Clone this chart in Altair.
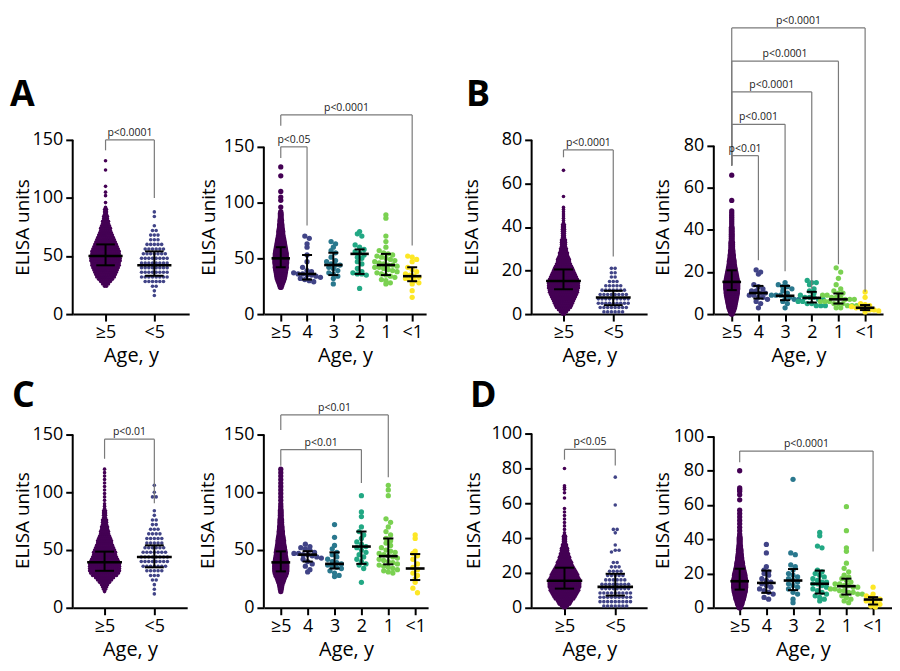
import altair as alt
import pandas as pd

FONT = "Open Sans"
GRAY = "#7a7a7a"

CATS_2 = ["≥5", "<5"]
CATS_6 = ["≥5", "4", "3", "2", "1", "<1"]
COLORS = {"≥5": "#440154", "<5": "#414487", "4": "#414487", "3": "#2A788E",
          "2": "#22A884", "1": "#7AD151", "<1": "#FDE725"}

# ---------------- Study A ----------------
A_ge5_bins = [24, 26, 28, 30, 32, 34, 36, 38, 40, 42, 44, 46, 48, 50, 52, 54, 56, 58, 60, 62,
              64, 66, 68, 70, 72, 74, 76, 78, 80, 82, 84, 86, 88, 90, 92, 96, 102, 105, 110, 124, 132]
A_ge5_counts = [2, 4, 6, 8, 10, 11, 12, 13, 14, 15, 15, 16, 16, 16, 15, 15, 14, 13, 12, 11,
                10, 9, 8, 7, 6, 6, 5, 4, 4, 3, 3, 2, 2, 2, 1, 1, 1, 1, 1, 1, 1]
A_lt5_bins = [16, 20, 24, 28, 32, 36, 40, 44, 48, 52, 56, 60, 64, 68, 72, 76, 84, 88]
A_lt5_counts = [1, 1, 2, 6, 8, 8, 8, 8, 8, 7, 6, 5, 3, 3, 2, 1, 1, 1]
A_age4 = [70, 68, 63, 60, 53, 47, 42, 39, 38, 37, 36, 36, 35, 35, 34, 33, 32, 31, 30, 29]
A_age3 = [65, 63, 60, 57, 55, 51, 48, 47, 45, 44, 44, 42, 41, 39, 37, 36, 34, 32, 27]
A_age2 = [74, 72, 70, 62, 60, 58, 56, 55, 53, 51, 50, 47, 45, 41, 38, 37, 36, 36, 35, 23]
A_age1 = [89, 86, 70, 65, 60, 57, 55, 54, 53, 52, 51, 50, 49, 48, 47, 46, 45, 44, 44, 43, 42,
          42, 41, 40, 39, 38, 37, 36, 35, 34, 33, 31, 30, 28, 27]
A_ageU1 = [52, 51, 49, 47, 42, 40, 38, 36, 35, 34, 33, 32, 31, 30, 28, 27, 21, 15]
A2_q1, A2_med, A2_q3 = [42, 33], [50, 42], [60, 54]
A6_q1 = [42, 31, 35, 36, 35, 29.5]
A6_med = [50, 36, 44, 54, 44, 34]
A6_q3 = [60, 53, 55, 58, 54, 42]
A2_brackets = [(0, 1, 150, 141, 100, "p<0.0001")]
A6_brackets = [(0, 1, 150, 140, 79.5, "p<0.05"), (0, 5, 178.6, 169, 61.6, "p<0.0001")]

# ---------------- Study B ----------------
B_ge5_bins = list(range(0, 50)) + [54, 66]
B_ge5_counts = [2, 4, 6, 8, 9, 10, 11, 12, 13, 14, 15, 15, 16, 16, 16, 16, 15, 14, 13, 12,
                11, 10, 9, 8, 7, 7, 6, 5, 5, 4, 4, 3, 3, 3, 3, 2, 2, 2, 2, 2,
                2, 2, 1, 1, 1, 1, 1, 1, 1, 1, 1, 1]
B_lt5_bins = [1, 3, 5, 7, 9, 11, 13, 15, 17, 19, 21]
B_lt5_counts = [6, 8, 9, 9, 8, 7, 5, 3, 2, 2, 2]
B_age4 = [21, 20, 19, 14, 13, 12, 11, 11, 10, 10, 9, 9, 8, 8, 7, 6, 5, 3]
B_age3 = [15, 14, 13, 13, 12, 11, 10, 9, 9, 9, 8, 8, 7, 7, 6, 5, 3]
B_age2 = [16, 15, 15, 14, 12, 11, 10, 9, 8, 8, 8, 7, 7, 6, 6, 5, 5, 4, 4, 4]
B_age1 = [22, 20, 17, 14, 12, 11, 10, 10, 9, 9, 8, 8, 8, 7, 7, 7, 6, 6, 6, 5, 5, 5, 4, 4, 4, 3, 3]
B_ageU1 = [10.5, 8, 5, 4.5, 4, 3.5, 3, 3, 2.5, 2, 2, 1.5, 1]
B2_q1, B2_med, B2_q3 = [11.4, 4.1], [15.2, 7.6], [20.5, 10.7]
B6_q1 = [11.4, 7.4, 6.6, 5.5, 5, 1.9]
B6_med = [15.3, 10, 8.7, 7.7, 7, 3]
B6_q3 = [20.8, 13.4, 13.4, 10.6, 9.8, 4.3]
B2_brackets = [(0, 1, 75.4, 72, 26.5, "p<0.0001")]
B6_brackets = [(0, 1, 75.3, 70.6, 25.6, "p<0.01"), (0, 2, 90.2, 70.6, 20.4, "p<0.001"),
               (0, 3, 105.6, 70.6, 12.1, "p<0.0001"), (0, 4, 120.2, 70.6, 23.7, "p<0.0001"),
               (0, 5, 136, 70.6, 10.6, "p<0.0001")]

# ---------------- Study C ----------------
C_ge5_bins = [14, 16, 18, 20, 22, 24, 26, 28, 30, 32, 34, 36, 38, 40, 42, 44, 46, 48, 50, 52,
              54, 56, 58, 60, 62, 64, 66, 68, 70, 72, 74, 76, 78, 80, 82, 84, 86, 88, 90, 93,
              96, 99, 102, 105, 108, 111, 114, 117, 120]
C_ge5_counts = [1, 2, 3, 4, 6, 8, 10, 13, 15, 16, 16, 16, 16, 15, 14, 13, 12, 12, 11, 10,
                9, 8, 8, 7, 6, 5, 5, 4, 4, 3, 3, 3, 2, 2, 2, 2, 1, 1, 1, 1,
                1, 1, 1, 1, 1, 1, 1, 1, 1]
C_lt5_bins = [12, 16, 20, 24, 28, 32, 36, 40, 44, 48, 52, 56, 60, 64, 68, 72, 76, 80, 84, 96, 100, 106]
C_lt5_counts = [1, 1, 1, 2, 3, 5, 7, 8, 8, 7, 6, 5, 5, 4, 3, 2, 2, 1, 1, 2, 1, 1]
C_age4 = [55, 53, 52, 51, 50, 48, 47, 47, 46, 46, 45, 44, 43, 42, 40, 38, 36, 33, 31]
C_age3 = [72, 61, 54, 51, 48, 46, 44, 42, 40, 39, 38, 37, 36, 35, 34, 32, 30, 28, 27]
C_age2 = [97, 83, 79, 70, 66, 63, 60, 57, 55, 53, 52, 50, 48, 46, 44, 42, 40, 38, 37, 34, 22]
C_age1 = [106, 102, 97, 77, 74, 70, 66, 63, 60, 58, 56, 54, 52, 50, 49, 48, 47, 46, 45, 44, 43,
          42, 41, 40, 39, 38, 37, 36, 35, 34, 33, 32, 31, 30]
C_ageU1 = [63, 60, 49, 47, 45, 42, 38, 35, 33, 30, 28, 25, 22, 17, 13]
C2_q1, C2_med, C2_q3 = [32, 35], [39.4, 44], [48.6, 54]
C6_q1 = [31.5, 40, 34, 38, 37.6, 24]
C6_med = [39.3, 46, 38, 53, 44.7, 34]
C6_q3 = [48.8, 49, 48, 66, 60, 46.5]
C2_brackets = [(0, 1, 146, 129, 90.5, "p<0.01")]
C6_brackets = [(0, 4, 167, 154, 113, "p<0.01"), (0, 3, 137, 123, 108, "p<0.01")]

# ---------------- Study D ----------------
D_ge5_bins = list(range(0, 44)) + [45, 47, 49, 51, 53, 55, 57, 63, 66, 68, 69, 70, 80]
D_ge5_counts = [2, 4, 6, 7, 8, 10, 11, 12, 13, 14, 15, 15, 16, 16, 16, 16, 16, 15, 14, 14,
                13, 12, 11, 10, 9, 8, 8, 7, 6, 6, 5, 5, 4, 4, 4, 3, 3, 2, 2, 2,
                2, 2, 1, 1, 1, 1, 1, 1, 1, 1, 1, 1, 1, 1, 1, 1, 1]
D_lt5_bins = [1, 3.5, 6, 8.5, 11, 13.5, 16, 18.5, 21, 23.5, 26, 32, 33, 36, 43, 45, 59, 75]
D_lt5_counts = [7, 9, 9, 9, 8, 8, 6, 5, 4, 3, 2, 1, 2, 1, 1, 2, 1, 1]
D_age4 = [37, 32, 24, 22, 21, 20, 19, 17, 16, 15, 14, 13, 12, 11, 10, 9, 8, 6, 5]
D_age3 = [75, 32, 31, 25, 24, 22, 20, 19, 18, 17, 16, 15, 14, 13, 12, 11, 9, 8, 5, 3]
D_age2 = [44, 42, 36, 35, 22, 21, 20, 19, 18, 17, 16, 15, 15, 14, 14, 13, 12, 11, 10, 9, 8, 7, 6, 5, 4]
D_age1 = [59, 45, 35, 33, 26, 23, 21, 19, 18, 17, 16, 15, 14, 14, 13, 13, 12, 12, 11, 11, 10,
          10, 9, 9, 8, 8, 7, 6, 5, 4, 3]
D_ageU1 = [12, 8, 7, 6, 5, 5, 4, 4, 3, 2, 1, 0.5]
D2_q1, D2_med, D2_q3 = [11, 7], [15.5, 12], [23, 19.5]
D6_q1 = [10.6, 8.7, 10.3, 8.3, 7.7, 1.9]
D6_med = [15.5, 14.5, 15.9, 14, 12.6, 4.8]
D6_q3 = [22.8, 21.7, 22.6, 21.7, 17, 6.2]
D2_brackets = [(0, 1, 90.9, 85, 81.7, "p<0.05")]
D6_brackets = [(0, 5, 91.5, 85, 32.9, "p<0.0001")]


def make_points(cats, groups):
    rows = []
    for ci, g in enumerate(groups):
        kind = g[0]
        if kind in ("b", "h"):
            for v, n in zip(g[1], g[2]):
                rows += [{"ci": ci, "cat": cats[ci], "v": v, "k": kind}] * n
        else:
            for v in g[1]:
                rows.append({"ci": ci, "cat": cats[ci], "v": v, "k": "p"})
    return pd.DataFrame(rows)


def panel(cats, groups, q1, med, q3, ticks, ymax, xdom, w, h, rstep, sp, bsp, dot,
          brackets, title_x, letter=None, anchor=False):
    n = len(cats)
    xs = alt.Scale(domain=xdom, nice=False, zero=False)
    ys = alt.Scale(domain=[0, ymax], nice=False, zero=False)
    lab = "[" + ",".join("'" + c + "'" for c in cats) + "][datum.value]"
    xax = alt.Axis(values=list(range(n)), labelExpr=lab, title="Age, y", grid=False,
                   domainColor="black", domainWidth=2, tickColor="black", tickWidth=2,
                   tickSize=7, labelFont=FONT, labelFontSize=18, labelColor="black",
                   labelPadding=3, labelAngle=0, labelFlush=False, labelOverlap=False,
                   titleFont=FONT, titleFontSize=20, titleFontWeight="normal",
                   titleColor="black", titlePadding=4)
    yax = alt.Axis(values=ticks, title="ELISA units", grid=False, domain=False,
                   tickColor="black", tickWidth=2, tickSize=7, labelFont=FONT,
                   labelFontSize=18, labelColor="black", labelPadding=3,
                   labelOverlap=False, titleFont=FONT, titleFontSize=19,
                   titleFontWeight="normal", titleColor="black", titleX=title_x,
                   titleBaseline="middle")

    def X(f):
        return alt.X(f, type="quantitative", scale=xs, axis=xax)

    def Y(f):
        return alt.Y(f, type="quantitative", scale=ys, axis=yax)

    layers = []
    # y axis line up to the top tick
    layers.append(
        alt.Chart(pd.DataFrame({"y0": [0], "y1": [ticks[-1]]}))
        .mark_rule(color="black", strokeWidth=2)
        .encode(x=alt.value(0), y=Y("y0"), y2="y1:Q")
    )
    pts = make_points(cats, groups)
    layers.append(
        alt.Chart(pts)
        .transform_calculate(row=f"datum.k == 'b' ? datum.v : round(datum.v / {rstep})")
        .transform_window(rk="row_number()", n="count()", groupby=["ci", "row"],
                          frame=[None, None])
        .transform_calculate(
            xp=f"datum.ci + (datum.rk - (datum.n + 1) / 2) * (datum.k == 'b' ? {bsp} : {sp})")
        .mark_circle(size=dot, opacity=1)
        .encode(x=X("xp"), y=Y("v"),
                color=alt.Color("cat:N", scale=alt.Scale(domain=list(COLORS.keys()),
                                                          range=list(COLORS.values())),
                                legend=None))
    )
    stats = pd.DataFrame({"ci": list(range(n)), "q1": q1, "med": med, "q3": q3})
    eb = alt.Chart(stats).transform_calculate(
        ma="datum.ci - 0.35", mb="datum.ci + 0.35",
        ca="datum.ci - 0.19", cb="datum.ci + 0.19")
    layers.append(eb.mark_rule(color="black", strokeWidth=2.6)
                  .encode(x=X("ma"), x2="mb:Q", y=Y("med")))
    layers.append(eb.mark_rule(color="black", strokeWidth=2)
                  .encode(x=X("ci"), y=Y("q1"), y2="q3:Q"))
    layers.append(eb.mark_rule(color="black", strokeWidth=2)
                  .encode(x=X("ca"), x2="cb:Q", y=Y("q1")))
    layers.append(eb.mark_rule(color="black", strokeWidth=2)
                  .encode(x=X("ca"), x2="cb:Q", y=Y("q3")))

    bd = pd.DataFrame(brackets, columns=["a", "b", "top", "la", "lb", "lab"])
    bb = alt.Chart(bd).transform_calculate(mid="(datum.a + datum.b) / 2")
    layers.append(bb.mark_rule(color=GRAY, strokeWidth=1.2)
                  .encode(x=X("a"), x2="b:Q", y=Y("top")))
    layers.append(bb.mark_rule(color=GRAY, strokeWidth=1.2)
                  .encode(x=X("a"), y=Y("la"), y2="top:Q"))
    layers.append(bb.mark_rule(color=GRAY, strokeWidth=1.2)
                  .encode(x=X("b"), y=Y("lb"), y2="top:Q"))
    layers.append(bb.mark_text(font=FONT, fontSize=10.5, color="#1a1a1a", dy=-4,
                               baseline="alphabetic", align="center")
                  .encode(x=X("mid"), y=Y("top"), text="lab:N"))
    if letter is not None:
        layers.append(
            alt.Chart(pd.DataFrame({"t": [letter[0]]}))
            .mark_text(font=FONT, fontSize=36, fontWeight="bold", color="black",
                       align="left", baseline="alphabetic")
            .encode(x=alt.value(letter[1]), y=alt.value(letter[2]), text="t:N")
        )
    if anchor:
        layers.append(
            alt.Chart(pd.DataFrame({"z": [0]}))
            .mark_rule(opacity=0, strokeWidth=1)
            .encode(x=alt.value(-65), x2=alt.value(-64), y=alt.value(-131))
        )
    return alt.layer(*layers).properties(width=w, height=h)


def spacer(w, h):
    return (alt.Chart(pd.DataFrame({"z": [0]})).mark_point(opacity=0)
            .encode(x=alt.value(0), y=alt.value(0)).properties(width=w, height=h))


H1, H2 = 175, 176
SM, LG = 13, 28
BL, BR = 0.04, 0.03

pA1 = panel(CATS_2, [("b", A_ge5_bins, A_ge5_counts), ("h", A_lt5_bins, A_lt5_counts)],
            A2_q1, A2_med, A2_q3, [0, 50, 100, 150], 150, [-0.673, 1.714], 117, H1,
            4, 0.075, BL, SM, A2_brackets, -50, letter=("A", -63, -34), anchor=True)
pA2 = panel(CATS_6, [("b", A_ge5_bins, A_ge5_counts), ("p", A_age4), ("p", A_age3),
                     ("p", A_age2), ("p", A_age1), ("p", A_ageU1)],
            A6_q1, A6_med, A6_q3, [0, 50, 100, 150], 156.25, [-0.644, 5.53], 163, H1,
            5, 0.17, BR, LG, A6_brackets, -56)
pB1 = panel(CATS_2, [("b", B_ge5_bins, B_ge5_counts), ("h", B_lt5_bins, B_lt5_counts)],
            B2_q1, B2_med, B2_q3, [0, 20, 40, 60, 80], 80, [-0.64, 1.68], 116, H1,
            2, 0.075, BL, SM, B2_brackets, -60, letter=("B", -66, -34))
pB2 = panel(CATS_6, [("b", B_ge5_bins, B_ge5_counts), ("p", B_age4), ("p", B_age3),
                     ("p", B_age2), ("p", B_age1), ("p", B_ageU1)],
            B6_q1, B6_med, B6_q3, [0, 20, 40, 60, 80], 82.8, [-0.672, 5.672], 170, H1,
            2.6, 0.17, BR, LG, B6_brackets, -52)
pC1 = panel(CATS_2, [("b", C_ge5_bins, C_ge5_counts), ("h", C_lt5_bins, C_lt5_counts)],
            C2_q1, C2_med, C2_q3, [0, 50, 100, 150], 151.7, [-0.64, 1.66], 115, H2,
            4, 0.075, BL, SM, C2_brackets, -50, letter=("C", -61, -26))
pC2 = panel(CATS_6, [("b", C_ge5_bins, C_ge5_counts), ("p", C_age4), ("p", C_age3),
                     ("p", C_age2), ("p", C_age1), ("p", C_ageU1)],
            C6_q1, C6_med, C6_q3, [0, 50, 100, 150], 151.7, [-0.63, 5.481], 165, H2,
            5, 0.17, BR, LG, C6_brackets, -57)
pD1 = panel(CATS_2, [("b", D_ge5_bins, D_ge5_counts), ("h", D_lt5_bins, D_lt5_counts)],
            D2_q1, D2_med, D2_q3, [0, 20, 40, 60, 80, 100], 100.6, [-0.647, 1.627], 116, H2,
            2.5, 0.075, BL, SM, D2_brackets, -58, letter=("D", -62, -26))
pD2 = panel(CATS_6, [("b", D_ge5_bins, D_ge5_counts), ("p", D_age4), ("p", D_age3),
                     ("p", D_age2), ("p", D_age1), ("p", D_ageU1)],
            D6_q1, D6_med, D6_q3, [0, 20, 40, 60, 80, 100], 102.3, [-0.97, 5.709], 179, H2,
            3.2, 0.17, BR, LG, D6_brackets, -52)

chart = alt.concat(
    pA1, spacer(72, H1), pA2, spacer(104, H1), pB1, spacer(65, H1), pB2,
    pC1, spacer(75, H2), pC2, spacer(99, H2), pD1, spacer(67, H2), pD2,
    columns=7, spacing={"row": 119, "column": 0}, bounds="flush", align="none",
).properties(padding=0).configure_view(stroke=None)

chart.save("out.html", embed_options={"renderer": "svg", "actions": False})
